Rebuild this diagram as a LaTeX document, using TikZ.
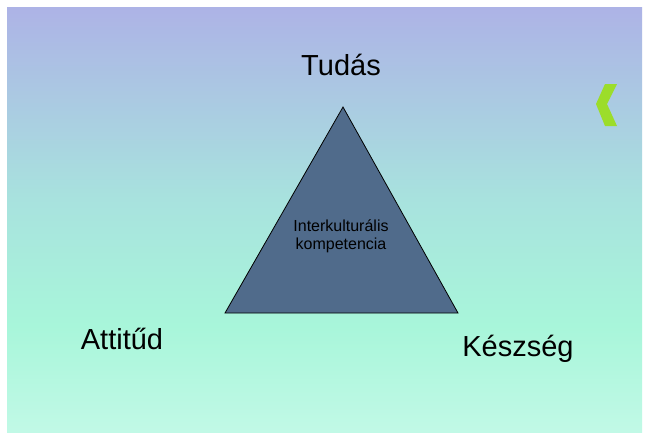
\documentclass[tikz,border=0pt]{standalone}
\usepackage{fontspec}
\setmainfont{Liberation Sans}
\usepackage{tikz}

\definecolor{bgtop}{HTML}{ADB3E6}
\definecolor{bgmid}{HTML}{A8E2DE}
\definecolor{bglow}{HTML}{A8F6DA}
\definecolor{bgbot}{HTML}{C1F9E6}
\definecolor{pyramid}{HTML}{506B8B}
\definecolor{chevron}{HTML}{9CDD2A}
\pgfdeclareverticalshading{slidebg}{100bp}{color(0bp)=(bgbot); color(25bp)=(bgbot); color(37.5bp)=(bglow); color(52.5bp)=(bgmid); color(75bp)=(bgtop); color(100bp)=(bgtop)}

\begin{document}
\begin{tikzpicture}[x=1pt,y=-1pt]
		\tikzstyle{every node}+=[inner sep=0pt]
		\tikzstyle{corner}=[font=\fontsize{29}{34}\selectfont, anchor=base]
		\tikzstyle{inside}=[font=\fontsize{16}{19}\selectfont, anchor=base]
		\useasboundingbox [fill=white] (0,0) rectangle (646,432);
		% slide
		\shade [shading=slidebg] (7,7) rectangle (642,432);
		% triangle
		\coordinate (top) at (343,107);
		\coordinate (left) at (225,313);
		\coordinate (right) at (458,313);
		\draw [black, fill=pyramid, line width=0.8pt, line join=miter] (top) -- (left) -- (right) -- cycle;
		\node [inside] (inter) at (341,231) {Interkulturális};
		\node [inside] (komp) at (341,249) {kompetencia};
		% corner labels
		\node [corner] (tudas) at (341,75) {Tudás};
		\node [corner] (attitud) at (122,349) {Attitűd};
		\node [corner] (keszseg) at (518,356) {Készség};
		% chevron
		\fill [chevron] (605,84) -- (617,84) -- (607,104) -- (617,126) -- (605,126) -- (596,104) -- cycle;
	\end{tikzpicture}
\end{document}
